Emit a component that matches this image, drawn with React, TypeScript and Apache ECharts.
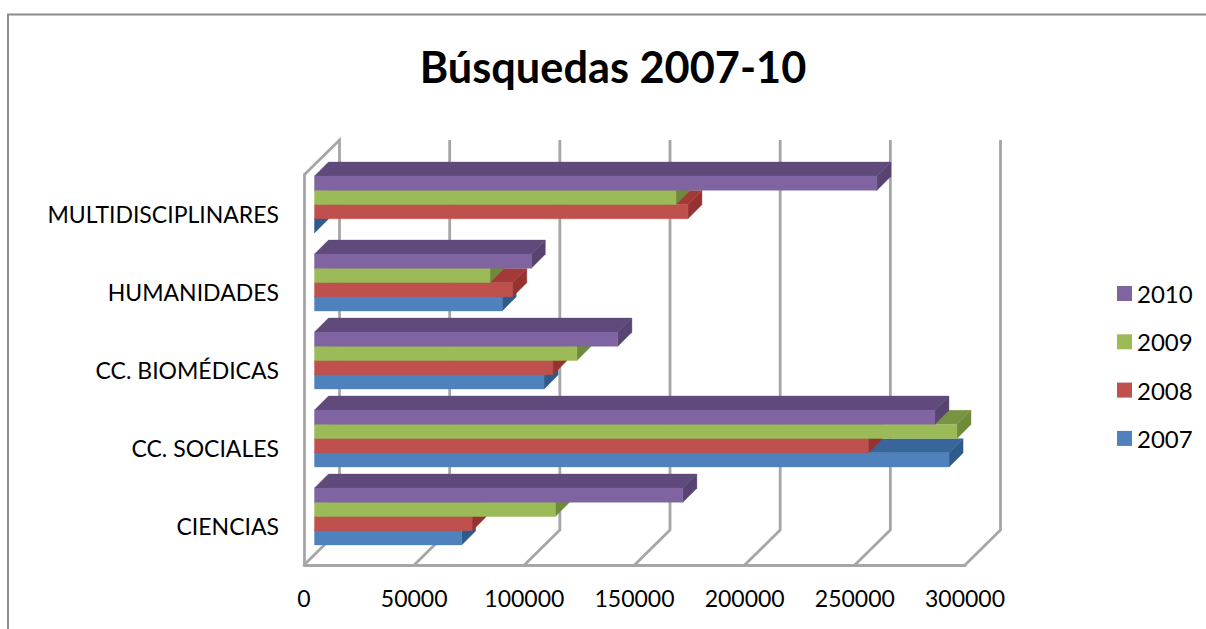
import React, { useEffect, useRef } from "react";
import * as echarts from "echarts";

const categories = ["CIENCIAS", "CC. SOCIALES", "CC. BIOMÉDICAS", "HUMANIDADES", "MULTIDISCIPLINARES"];
const years = ["2007", "2008", "2009", "2010"];
const values2007 = [66800, 288000, 104200, 85200, 0];
const values2008 = [71600, 251400, 108200, 90000, 169500];
const values2009 = [109300, 291600, 119100, 79700, 164100];
const values2010 = [167200, 281600, 137700, 98400, 255300];
const allValues = [values2007, values2008, values2009, values2010];
const axisTicks = [0, 50000, 100000, 150000, 200000, 250000, 300000];

const frontColors = ["#4F81BD", "#C0504D", "#9BBB59", "#8064A2"];
const topColors = ["#38659A", "#A33A37", "#789440", "#604A7B"];
const sideColors = ["#2F5A8C", "#963230", "#6E8A3A", "#584470"];
const WALL = "#A6A6A6";
const FONT = "Lato, Carlito, sans-serif";

const WALL_DEPTH_X = 35.5;
const WALL_DEPTH_Y = 35;
const BAR_INSET_X = 10.5;
const BAR_INSET_Y = 9.5;
const BAR_DEPTH = 14;
const BAR_RATIO = 14.2 / 78;

const poly = (points: number[][], fill: string) => ({
  type: "polygon",
  shape: { points },
  style: { fill, stroke: fill, lineWidth: 0.4 },
  silent: true,
});

const barRenderer = (seriesIdx: number) => (_params: any, api: any) => {
  const v = api.value(0);
  const cat = api.value(1);
  const [x0, yc] = api.coord([0, cat]);
  const [x1] = api.coord([v, cat]);
  const band = api.size([0, 1])[1];
  const h = band * BAR_RATIO;
  const left = x0 + BAR_INSET_X;
  const right = x1 + BAR_INSET_X;
  const bottom = yc - BAR_INSET_Y + 2 * h - seriesIdx * h;
  const top = bottom - h;
  const d = BAR_DEPTH;
  const children: any[] = [
    poly([[right, top], [right + d, top - d], [right + d, bottom - d], [right, bottom]], sideColors[seriesIdx]),
    poly([[left, top], [left + d, top - d], [right + d, top - d], [right, top]], topColors[seriesIdx]),
  ];
  if (v > 0) {
    children.push(poly([[left, top], [right, top], [right, bottom], [left, bottom]], frontColors[seriesIdx]));
  }
  return { type: "group", children };
};

const wallRenderer = (params: any, api: any) => {
  const v = api.value(0);
  const cs = params.coordSys;
  const [x] = api.coord([v, 0]);
  const yBottom = cs.y + cs.height;
  const yTop = cs.y;
  const points =
    v === 0
      ? [[x, yTop], [x + WALL_DEPTH_X, yTop - WALL_DEPTH_Y], [x + WALL_DEPTH_X, yBottom - WALL_DEPTH_Y], [x, yBottom]]
      : [[x, yBottom], [x + WALL_DEPTH_X, yBottom - WALL_DEPTH_Y], [x + WALL_DEPTH_X, yTop - WALL_DEPTH_Y]];
  return {
    type: "polyline",
    shape: { points },
    style: { fill: "none", stroke: WALL, lineWidth: 2.8 },
    silent: true,
  };
};

export default function App() {
  const ref = useRef<HTMLDivElement>(null);
  useEffect(() => {
    const chart = echarts.init(ref.current!, undefined, { renderer: "svg" });
    chart.setOption({
      animation: false,
      backgroundColor: "#FFFFFF",
      textStyle: { fontFamily: FONT },
      title: {
        text: "Búsquedas 2007-10",
        left: 608,
        top: 39,
        textAlign: "center",
        textStyle: { fontFamily: FONT, fontSize: 43.3, fontWeight: "bold", color: "#000" },
      },
      legend: {
        orient: "vertical",
        left: 1112,
        top: 276.5,
        itemWidth: 15,
        itemHeight: 15,
        itemGap: 24.3,
        icon: "rect",
        data: [...years].reverse(),
        textStyle: { fontFamily: FONT, fontSize: 24, color: "#000" },
      },
      grid: { left: 304, top: 175, width: 661, height: 390 },
      xAxis: {
        type: "value",
        min: axisTicks[0],
        max: axisTicks[axisTicks.length - 1],
        interval: axisTicks[1] - axisTicks[0],
        axisLine: { show: true, lineStyle: { color: WALL, width: 2.8 } },
        axisTick: { show: false },
        splitLine: { show: false },
        axisLabel: { color: "#000", fontFamily: FONT, fontSize: 23, margin: 21, formatter: (v: number) => String(v) },
      },
      yAxis: {
        type: "category",
        data: categories,
        axisLine: { show: true, lineStyle: { color: WALL, width: 2.8 } },
        axisTick: { show: false },
        splitLine: { show: false },
        axisLabel: { color: "#000", fontFamily: FONT, fontSize: 23, margin: 25, padding: [5, 0, 0, 0] },
      },
      graphic: [
        {
          type: "polyline",
          shape: { points: [[8, 629], [8, 14.5], [1206, 14.5]] },
          style: { fill: "none", stroke: "#8C8C8C", lineWidth: 2 },
          silent: true,
        },
      ],
      series: [
        {
          type: "custom",
          name: "walls",
          renderItem: wallRenderer,
          data: axisTicks.map((t) => [t, 0]),
          encode: { x: 0, y: 1 },
          clip: false,
          silent: true,
          z: 1,
        },
        ...years.map((year, i) => ({
          type: "custom",
          name: year,
          renderItem: barRenderer(i),
          data: allValues[i].map((v, c) => [v, c]),
          encode: { x: 0, y: 1 },
          itemStyle: { color: frontColors[i] },
          clip: false,
          silent: true,
          z: 2 + i,
        })),
      ],
    });
    return () => chart.dispose();
  }, []);
  return <div ref={ref} style={{ position: "fixed", left: 0, top: 0, width: 1206, height: 629 }} />;
}
